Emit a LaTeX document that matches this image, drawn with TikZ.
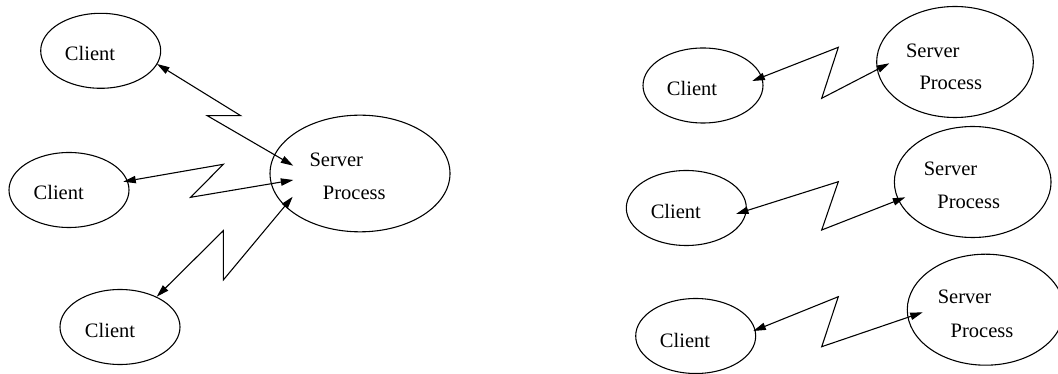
\documentclass[tikz,border=0pt]{standalone}
\usepackage{fontspec}
\setmainfont{Liberation Serif}
\usepackage{tikz}
\usetikzlibrary{arrows.meta,shapes.geometric}
\tikzset{
  csclient/.style={draw=black, ellipse, line width=0.65pt, inner sep=0pt,
                   minimum width=72pt, minimum height=45pt},
  csserver/.style={csclient, minimum width=94pt, minimum height=66.6pt},
  csbig/.style={csclient, minimum width=108pt, minimum height=70pt},
  cstext/.style={anchor=base, inner sep=0pt, font=\fontsize{12.3}{14}\selectfont},
  cslink/.style={{Triangle[length=7.5pt,width=4.4pt]}-{Triangle[length=7.5pt,width=4.4pt]},
                 line width=0.65pt, line join=miter},
}
\begin{document}
\begin{tikzpicture}[x=0.6pt,y=-0.6pt]
  \useasboundingbox (0,0) rectangle (1058,374);
  % one server, many clients
  \node[csclient] (cl1) at (100.7,50.8) {};
  \node[csclient] (cl2) at (69,190) {};
  \node[csclient] (cl3) at (120,327) {};
  \node[csbig] (srv) at (360,173.5) {};
  \node[cstext] (cl1t) at (90,61) {Client};
  \node[cstext] (cl2t) at (58.7,199.3) {Client};
  \node[cstext] (cl3t) at (110,337.7) {Client};
  \node[cstext] (srvt) at (336.3,166.7) {Server};
  \node[cstext] (srvp) at (354.3,199.3) {Process};
  \coordinate (cl1e) at (157,64);
  \coordinate (cl2e) at (123.3,181.7);
  \coordinate (cl3e) at (156.7,296.7);
  \coordinate (srv1e) at (293.3,165.7);
  \coordinate (srv2e) at (293.3,180);
  \coordinate (srv3e) at (292.7,196.7);
  \draw[cslink] (cl1e) -- (240.7,115.7) -- (207.3,115.7) -- (srv1e);
  \draw[cslink] (cl2e) -- (223.3,164.3) -- (190.7,197.3) -- (srv2e);
  \draw[cslink] (cl3e) -- (223.3,230.7) -- (223.3,280) -- (srv3e);

  % one server per client
  \node[csclient] (rc1) at (703,85.5) {};
  \node[csclient] (rc2) at (686.3,208) {};
  \node[csclient] (rc3) at (695.7,336) {};
  \node[csserver] (rs1) at (955,62) {};
  \node[csserver] (rs2) at (972.7,182) {};
  \node[csserver] (rs3) at (985.6,309.7) {};
  \node[cstext] (rc1t) at (692,96) {Client};
  \node[cstext] (rc2t) at (675.8,218.3) {Client};
  \node[cstext] (rc3t) at (685,347.7) {Client};
  \node[cstext] (rs1t) at (932.8,57.3) {Server};
  \node[cstext] (rs1p) at (950.8,90) {Process};
  \node[cstext] (rs2t) at (950.5,176) {Server};
  \node[cstext] (rs2p) at (968.7,209) {Process};
  \node[cstext] (rs3t) at (964.5,304) {Server};
  \node[cstext] (rs3p) at (982,337.3) {Process};
  \coordinate (rc1e) at (752.3,81);
  \coordinate (rc2e) at (736,214);
  \coordinate (rc3e) at (753.3,331);
  \coordinate (rs1e) at (889.3,63.3);
  \coordinate (rs2e) at (905.3,197.3);
  \coordinate (rs3e) at (922.7,312.3);
  \draw[cslink] (rc1e) -- (838.3,47.3) -- (821.7,98.3) -- (rs1e);
  \draw[cslink] (rc2e) -- (838.3,181.7) -- (821.7,230) -- (rs2e);
  \draw[cslink] (rc3e) -- (838.3,296.7) -- (821.7,346.7) -- (rs3e);
\end{tikzpicture}
\end{document}
